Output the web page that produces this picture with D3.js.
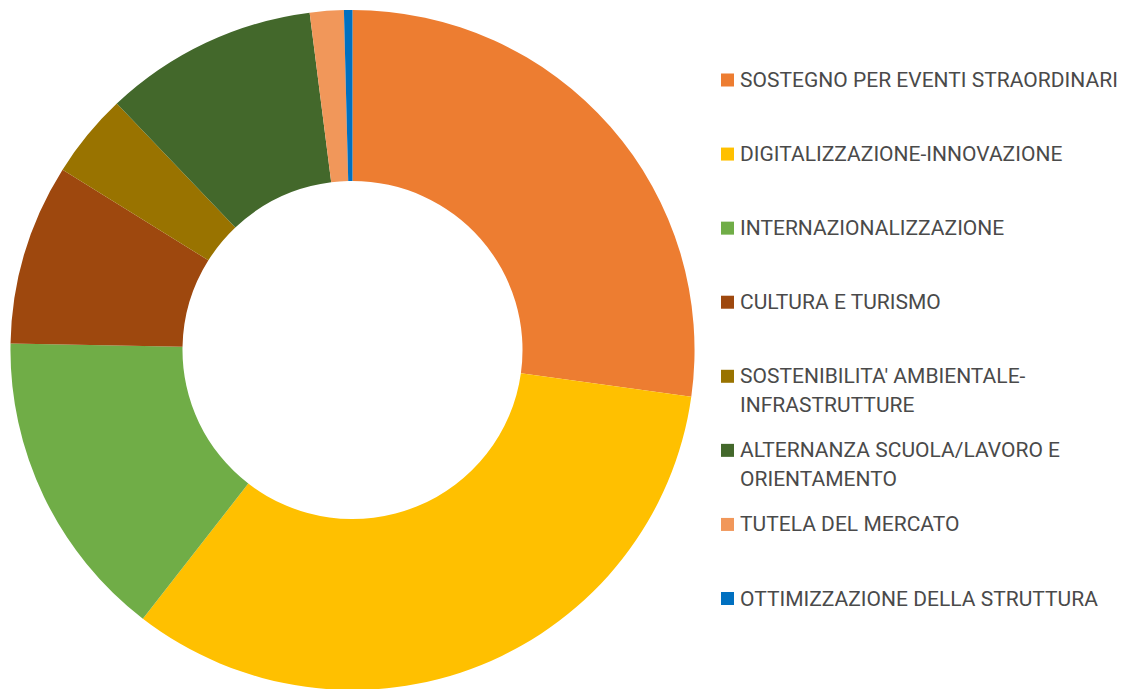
<!DOCTYPE html>
<html>
<head>
<meta charset="utf-8">
<script src="https://cdn.jsdelivr.net/npm/d3@7"></script>
<style>
html,body{margin:0;padding:0;background:#fff;}
svg{display:block;}
</style>
</head>
<body>
<svg id="chart" width="1127" height="689"></svg>
<script>
const categories = [
  "SOSTEGNO PER EVENTI STRAORDINARI",
  "DIGITALIZZAZIONE-INNOVAZIONE",
  "INTERNAZIONALIZZAZIONE",
  "CULTURA E TURISMO",
  "SOSTENIBILITA' AMBIENTALE-INFRASTRUTTURE",
  "ALTERNANZA SCUOLA/LAVORO E ORIENTAMENTO",
  "TUTELA DEL MERCATO",
  "OTTIMIZZAZIONE DELLA STRUTTURA"
];
const legendLines = [
  ["SOSTEGNO PER EVENTI STRAORDINARI"],
  ["DIGITALIZZAZIONE-INNOVAZIONE"],
  ["INTERNAZIONALIZZAZIONE"],
  ["CULTURA E TURISMO"],
  ["SOSTENIBILITA' AMBIENTALE-", "INFRASTRUTTURE"],
  ["ALTERNANZA SCUOLA/LAVORO E", "ORIENTAMENTO"],
  ["TUTELA DEL MERCATO"],
  ["OTTIMIZZAZIONE DELLA STRUTTURA"]
];
const values = [27.2, 33.3, 14.8, 8.6, 4.0, 10.1, 1.6, 0.4];
const colors = ["#ED7D31", "#FFC000", "#70AD47", "#9E480E", "#997300", "#43682B", "#F1975A", "#0070C0"];

const svg = d3.select("#chart");
const cx = 352.5, cy = 350, outerR = 340, innerR = 169;

const pie = d3.pie().sort(null).value(d => d)(values);
const arc = d3.arc().innerRadius(innerR).outerRadius(outerR);

svg.append("g")
  .attr("transform", `translate(${cx},${cy}) scale(1.006,1)`)
  .selectAll("path")
  .data(pie)
  .join("path")
  .attr("d", arc)
  .attr("fill", (d, i) => colors[i]);

// legend
const color = d3.scaleOrdinal().domain(categories).range(colors);
const legendY = d3.scalePoint().domain(categories).range([87, 605.5]);
const lg = svg.append("g");
const items = lg.selectAll("g.item").data(categories).join("g").attr("class", "item")
  .attr("transform", d => `translate(0,${legendY(d)})`);
items.append("rect")
  .attr("x", 721).attr("y", -13.5).attr("width", 13).attr("height", 13)
  .attr("fill", d => color(d));
const txtG = items.append("g").attr("class", "txt");
const texts = txtG.append("text")
  .attr("x", 0).attr("y", 0)
  .attr("font-family", "Roboto, 'Noto Sans', sans-serif")
  .attr("font-size", 20)
  .attr("fill", "#4a4a4a");
texts.each(function(d, i) {
  const t = d3.select(this);
  legendLines[i].forEach((line, j) => {
    t.append("tspan").attr("x", 0).attr("y", j * 28.7).text(line);
  });
});
// fit horizontally to the narrow legend font of the reference
const w0 = texts.nodes()[0].getComputedTextLength();
const sx = 378 / w0;
txtG.attr("transform", `translate(740,0) scale(${sx},1)`);
</script>
</body>
</html>
